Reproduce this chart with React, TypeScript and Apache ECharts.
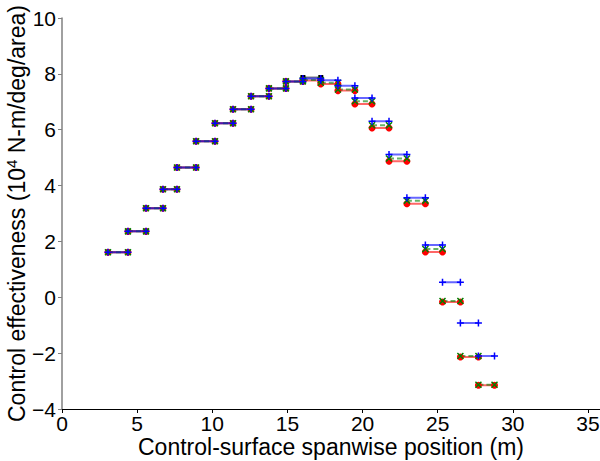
import React, { useEffect, useRef } from "react";
import * as echarts from "echarts";

// Segment edges along the span (m)
const edges = [3.06, 4.39, 5.59, 6.72, 7.65, 8.92, 10.18, 11.38, 12.58, 13.77, 14.9, 16.03, 17.22, 18.36, 19.49, 20.63, 21.76, 22.95, 24.18, 25.32, 26.51, 27.71, 28.78];

const redValues = [1.61, 2.36, 3.19, 3.87, 4.65, 5.59, 6.23, 6.73, 7.2, 7.48, 7.73, 7.76, 7.64, 7.4, 6.92, 6.06, 4.87, 3.35, 1.62, -0.17, -2.14, -3.15];
const greenValues = [1.61, 2.36, 3.19, 3.87, 4.65, 5.59, 6.23, 6.73, 7.2, 7.48, 7.73, 7.78, 7.68, 7.44, 7.02, 6.16, 4.97, 3.46, 1.73, -0.13, -2.1, -3.13];
const blueValues = [1.61, 2.36, 3.19, 3.87, 4.65, 5.59, 6.23, 6.73, 7.2, 7.48, 7.73, 7.83, 7.77, 7.57, 7.14, 6.3, 5.11, 3.56, 1.87, 0.54, -0.92, -2.1];
const blackValues = [1.61, 2.36, 3.19, 3.87, 4.65, 5.59, 6.23, 6.73, 7.2, 7.48, 7.73, 7.87];

const xTicks = [0, 5, 10, 15, 20, 25, 30, 35];

function segs(values: number[]) {
  const out: any[] = [];
  values.forEach((v, i) => {
    out.push([edges[i], v]);
    out.push([edges[i + 1], v]);
    out.push([edges[i + 1], "-"]);
  });
  return out;
}

const FONT = "Liberation Sans, Arial, sans-serif";

export default function App() {
  const ref = useRef<HTMLDivElement>(null);
  useEffect(() => {
    if (!ref.current) return;
    const chart = echarts.init(ref.current, undefined, { renderer: "svg" });
    const mk = (name: string, values: number[], color: string, symbol: string, size: number, dashed: boolean, strokeOnly: boolean, lineOpacity: number) => ({
      name,
      type: "line",
      data: segs(values),
      connectNulls: false,
      symbol,
      symbolSize: size,
      showSymbol: true,
      showAllSymbol: true,
      lineStyle: { color, width: 2, opacity: lineOpacity, type: dashed ? [5, 3] : "solid" },
      itemStyle: strokeOnly
        ? { color: "none", borderColor: color, borderWidth: 1.5 }
        : { color, borderWidth: 0 },
      emphasis: { disabled: true },
    });
    chart.setOption({
      animation: false,
      grid: { left: 62, top: 18, right: 0, bottom: 52, containLabel: false, outerBoundsMode: "none" },
      xAxis: {
        type: "value",
        min: 0,
        max: 35.8,
        interval: 5,
        splitLine: { show: false },
        axisLine: { onZero: false, lineStyle: { color: "#000", width: 1 } },
        axisTick: { show: true, length: 4, lineStyle: { color: "#000" } },
        axisLabel: {
          color: "#000",
          fontSize: 21,
          fontFamily: FONT,
          margin: 4,
          showMaxLabel: true,
          formatter: (v: number) => (xTicks.includes(v) ? String(v) : ""),
        },
        name: "Control-surface spanwise position (m)",
        nameLocation: "middle",
        nameMoveOverlap: false,
        nameGap: 26,
        nameTextStyle: { color: "#000", fontSize: 23, fontFamily: FONT },
      },
      yAxis: {
        type: "value",
        min: -4,
        max: 10,
        interval: 2,
        splitLine: { show: false },
        axisLine: { show: true, onZero: false, lineStyle: { color: "#808080", width: 1.5 } },
        axisTick: { show: true, length: 4, lineStyle: { color: "#808080" } },
        axisLabel: {
          color: "#000",
          fontSize: 21,
          fontFamily: FONT,
          margin: 6,
          formatter: (v: number) => (v < 0 ? "\u2212" + Math.abs(v) : String(v)),
        },
        name: "Control effectiveness (10{sup|4} N-m/deg/area)",
        nameLocation: "middle",
        nameMoveOverlap: false,
        nameGap: 32,
        nameTextStyle: {
          color: "#000",
          fontSize: 23,
          lineHeight: 26,
          fontFamily: FONT,
          rich: {
            sup: { fontSize: 15, lineHeight: 26, verticalAlign: "top", color: "#000", fontFamily: FONT },
          },
        },
      },
      series: [
        mk("black", blackValues, "#000000", "rect", 5, false, false, 0.5),
        mk("red", redValues, "#ff0000", "circle", 7, false, false, 0.6),
        mk("green", greenValues, "#008000", "path://M0,0L10,10M10,0L0,10", 6, true, true, 0.6),
        mk("blue", blueValues, "#0000ff", "path://M5,0L5,10M0,5L10,5", 7, false, true, 0.6),
      ],
    });
    return () => chart.dispose();
  }, []);
  return <div ref={ref} style={{ width: 600, height: 461, position: "absolute", left: 0, top: 0 }} />;
}
